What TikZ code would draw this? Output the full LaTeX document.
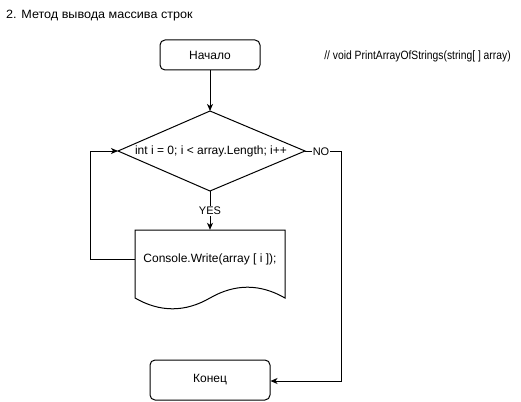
\documentclass[tikz,border=0pt]{standalone}
\usepackage{fontspec}
\setmainfont{Liberation Sans}
\usetikzlibrary{arrows.meta}
\tikzset{
  box/.style={draw, line width=1pt, rounded corners=5pt, inner sep=0pt},
  lbl/.style={inner sep=0pt, font=\fontsize{12}{14}\selectfont},
  conn/.style={draw, line width=1pt, -{Stealth[length=7pt,width=6pt,inset=2pt]}},
  tag/.style={fill=white, inner sep=1pt, font=\fontsize{11}{13}\selectfont},
}
\begin{document}
\begin{tikzpicture}[x=1pt,y=-1pt]
\useasboundingbox (0,0) rectangle (521,401);
% title and comment
\node[lbl, anchor=west] (title) at (6,16) {\scalebox{1.05}[1]{2. Метод вывода массива строк}};
\node[lbl] (comment) at (417.5,56) {\scalebox{0.86}[1]{// void PrintArrayOfStrings(string[ ] array)}};
% start
\node[box, lbl, minimum width=100pt, minimum height=30pt] (start) at (210,55) {Начало};
% diamond
\coordinate (dT) at (210,111);
\coordinate (dB) at (210,191);
\coordinate (dL) at (118,151);
\coordinate (dR) at (305,151);
\draw[line width=1pt] (dT) -- (dR) -- (dB) -- (dL) -- cycle;
\node[lbl] (cond) at (211,151) {int i = 0; i < array.Length; i++};
% document
\draw[line width=1pt] (135,230) -- (285,230) -- (285,298)
  .. controls (260,283.6) and (235,283.6) .. (210,298)
  .. controls (185,312.4) and (160,312.4) .. (135,298) -- cycle;
\node[lbl, minimum width=150pt, minimum height=58pt] (doc) at (210,259) {Console.Write(array [ i ]);};
% end
\node[box, lbl, minimum width=120pt, minimum height=40pt] (end) at (210,380) {Конец};
% connectors
\draw[conn] (start.south) -- (dT);
\draw[conn] (dB) -- (doc.north);
\node[tag] (yes) at (210,211) {YES};
\coordinate (nR) at (341,151);
\coordinate (nD) at (341,381);
\draw[conn] (dR) -- (nR) -- (nD) -- (end.east |- nD);
\node[tag] (no) at (321,151.5) {NO};
\coordinate (lB) at (90,259);
\coordinate (lT) at (90,151);
\draw[conn] (doc.west) -- (lB) -- (lT) -- (dL);
\end{tikzpicture}
\end{document}
